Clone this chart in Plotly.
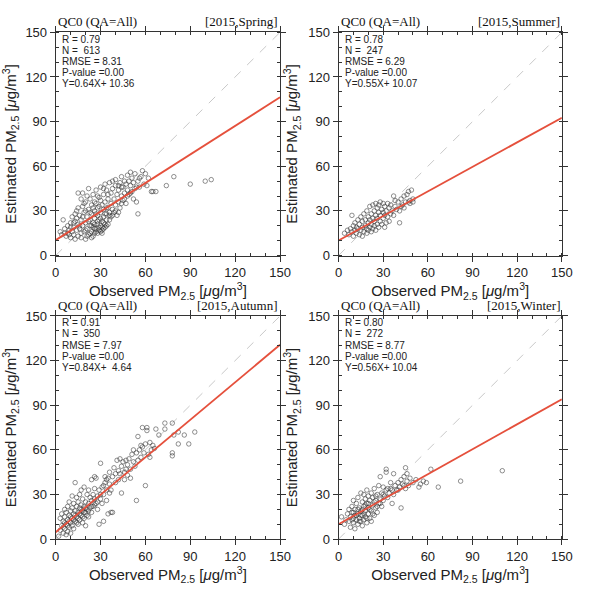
import plotly.graph_objects as go
from plotly.subplots import make_subplots

# ---------------- data ----------------
seasons = ["Spring", "Summer", "Autumn", "Winter"]
stat_R = ["0.79", "0.78", "0.91", "0.80"]
stat_N = ["613", "247", "350", "272"]
stat_RMSE = ["8.31", "6.29", "7.97", "8.77"]
stat_P = ["0.00", "0.00", "0.00", "0.00"]
slope = [0.64, 0.55, 0.84, 0.56]
intercept = [10.36, 10.07, 4.64, 10.04]
tick_vals = [0, 30, 60, 90, 120, 150]

spring_pts = [(3,16),(4,14),(5,24),(6,18),(7,13),(8,15),(8,20),(9,17),(10,12),(10,22),(11,16),(11,26),(12,14),(12,19),(13,11),(13,23),(14,17),(14,30),(15,13),(15,21),(15,42),(16,18),(16,27),(17,12),(17,15),(17,24),(18,42),(18,20),(18,33),(19,16),(19,29),(20,11),(20,22),(20,36),(21,18),(21,26),(22,14),(22,31),(22,45),(23,20),(23,24),(23,38),(24,16),(24,28),(24,34),(25,19),(25,22),(25,41),(26,15),(26,30),(26,25),(27,18),(27,35),(27,44),(28,21),(28,27),(28,32),(29,17),(29,24),(29,39),(30,20),(30,29),(30,46),(31,23),(31,34),(31,15),(32,26),(32,41),(32,31),(33,19),(33,36),(33,48),(34,28),(34,24),(34,44),(35,32),(35,38),(35,21),(36,29),(36,49),(37,35),(37,42),(37,26),(38,31),(38,45),(39,38),(39,29),(40,34),(40,47),(40,51),(41,41),(41,27),(42,36),(42,44),(43,49),(43,32),(44,40),(44,53),(45,46),(45,37),(46,42),(46,50),(47,48),(47,35),(48,44),(48,54),(49,41),(49,50),(50,47),(50,56),(51,43),(51,52),(52,49),(52,38),(53,45),(53,55),(54,36),(55,28),(55,50),(56,46),(57,53),(58,57),(59,48),(60,55),(61,47),(62,52),(64,43),(65,43),(67,43),(74,47),(79,53),(90,48),(100,50),(104,51),
    (12,22),(14,25),(16,20),(18,26),(20,17),(20,30),(22,23),(24,20),(25,32),(26,21),(27,28),(28,15),(29,33),(30,25),(31,19),(32,22),(33,28),(34,32),(36,24),(38,27),(40,30),(42,29),(44,35),(46,38),(10,19),(9,14),(6,15),(13,28),(15,32),(19,35),(21,40),(17,38),(23,29),(26,36),(28,40),(30,37),(32,45),(35,41),(38,50),(42,47),(44,46),(48,40),(50,42),(54,46),(56,52),
    (21,13),(23,15),(25,13),(27,16),(29,19),(31,17),(33,21),(26,18),(24,12),(28,23),(30,16),(32,18),(34,20),(36,27)]

summer_pts = [(4,15),(6,17),(7,14),(8,18),(9,27),(9,16),(10,13),(10,20),(11,17),(11,22),(12,15),(12,19),(13,18),(13,24),(14,14),(14,21),(15,17),(15,26),(16,13),(16,19),(16,23),(17,16),(17,28),(18,20),(18,24),(19,15),(19,18),(19,30),(20,22),(20,26),(20,17),(21,19),(21,24),(21,33),(22,16),(22,21),(22,28),(23,18),(23,25),(23,34),(24,20),(24,23),(24,30),(25,17),(25,27),(25,35),(26,21),(26,25),(26,32),(27,19),(27,29),(27,34),(28,23),(28,27),(28,36),(29,21),(29,31),(30,25),(30,29),(30,35),(31,19),(31,27),(31,33),(32,22),(32,30),(33,26),(33,35),(34,23),(34,32),(35,28),(35,34),(36,30),(37,27),(37,40),(38,33),(39,31),(40,36),(41,22),(41,30),(42,38),(43,34),(44,40),(45,36),(46,41),(47,36),(47,43),(48,35),(48,37),(49,44),(50,36),(50,38),(44,32),(42,33),(38,37)]

autumn_pts = [(2,2),(3,6),(3,14),(4,9),(4,17),(5,4),(5,12),(6,7),(6,15),(6,20),(7,3),(7,10),(7,18),(8,5),(8,13),(8,22),(9,8),(9,16),(9,25),(10,4),(10,11),(10,19),(11,14),(11,21),(11,29),(12,7),(12,17),(12,24),(13,12),(13,19),(13,38),(14,15),(14,22),(14,28),(15,10),(15,18),(15,25),(16,13),(16,21),(16,30),(17,16),(17,23),(17,33),(18,11),(18,19),(18,27),(19,14),(19,22),(19,35),(20,18),(20,25),(20,9),(21,20),(21,30),(22,15),(22,24),(22,33),(23,21),(23,28),(24,26),(24,18),(25,30),(25,22),(26,27),(26,34),(27,24),(27,41),(28,29),(28,20),(29,33),(29,10),(30,27),(30,51),(31,35),(31,24),(32,12),(32,30),(33,38),(33,42),(34,33),(34,26),(35,41),(35,17),(36,37),(36,45),(37,33),(37,18),(38,42),(38,18),(39,48),(40,38),(40,44),(41,53),(42,46),(42,40),(43,54),(44,49),(44,31),(45,52),(46,45),(46,40),(47,53),(48,50),(48,43),(49,54),(50,47),(50,41),(51,57),(52,52),(53,49),(54,26),(54,58),(55,53),(55,69),(56,60),(57,55),(58,75),(58,62),(59,58),(60,36),(60,64),(61,73),(61,75),(62,57),(63,65),(64,60),(65,63),(67,74),(69,70),(73,78),(73,74),(78,58),(78,56),(78,78),(79,70),(82,72),(82,64),(86,70),(89,64),(93,72),
    (5,8),(6,11),(8,9),(9,12),(10,15),(11,9),(12,13),(13,16),(14,11),(15,14),(16,17),(17,20),(18,15),(19,18),(20,21),(21,16),(22,19),(24,22),(26,23),(28,25),(30,30),(32,36),(34,40),(36,31),(26,42),(24,40),(43,44),(47,47),(52,60),(57,63),(63,55),(66,61)]

winter_pts = [(2,15),(4,10),(5,13),(6,17),(7,12),(7,20),(8,8),(8,15),(9,18),(9,22),(10,11),(10,14),(10,26),(11,7),(11,16),(11,20),(12,13),(12,24),(13,10),(13,17),(13,28),(14,14),(14,21),(15,12),(15,19),(15,31),(16,9),(16,16),(16,25),(17,13),(17,22),(17,30),(18,15),(18,19),(18,27),(19,11),(19,24),(19,33),(20,17),(20,21),(20,29),(21,14),(21,26),(22,12),(22,19),(22,31),(23,23),(23,28),(24,16),(24,34),(25,21),(25,26),(26,18),(26,30),(27,24),(27,36),(28,27),(28,42),(29,22),(29,31),(30,26),(30,35),(31,29),(32,45),(32,47),(32,33),(33,28),(34,31),(35,38),(35,34),(36,24),(37,30),(37,44),(38,36),(39,33),(40,38),(41,35),(42,21),(42,40),(43,37),(44,42),(45,34),(45,48),(46,39),(47,36),(48,41),(50,38),(52,40),(54,35),(55,37),(57,39),(59,38),(62,47),(67,35),(82,39),(110,46),
    (9,13),(10,18),(12,16),(13,20),(14,12),(15,16),(16,20),(17,17),(18,23),(19,14),(20,24),(21,20),(23,17),(24,25),(25,29),(26,22),(28,24),(30,30),(33,34),(36,33),(40,33),(44,36),(46,44)]

all_pts = [spring_pts, summer_pts, autumn_pts, winter_pts]

# ---------------- figure ----------------
W, H = 607, 592
fig = make_subplots(rows=2, cols=2)

# pixel boxes (left, right, top, bottom)
boxes = [(53, 283, 26, 255), (343, 572, 26, 255),
         (53, 283, 317, 546), (343, 572, 317, 546)]

for i in range(4):
    r, c = i // 2 + 1, i % 2 + 1
    xs = [p[0] for p in all_pts[i]]
    ys = [p[1] for p in all_pts[i]]
    fig.add_trace(go.Scatter(x=[0, 150], y=[0, 150], mode="lines",
                             line=dict(color="#c8c8c8", width=1, dash="dash"),
                             showlegend=False, hoverinfo="skip"), row=r, col=c)
    fig.add_trace(go.Scatter(x=xs, y=ys, mode="markers",
                             marker=dict(symbol="circle-open", size=4.5,
                                         color="rgba(45,45,45,0.75)",
                                         line=dict(width=0.7)),
                             showlegend=False), row=r, col=c)
    fig.add_trace(go.Scatter(x=[0, 150], y=[intercept[i], slope[i] * 150 + intercept[i]],
                             mode="lines", line=dict(color="#e5503c", width=1.8),
                             showlegend=False, hoverinfo="skip"), row=r, col=c)

axis_common = dict(range=[0, 150], tickvals=tick_vals, showgrid=False, zeroline=False,
                   showline=True, linecolor="#333", linewidth=1, mirror="ticks",
                   ticks="outside", ticklen=5, tickcolor="#333", tickwidth=1,
                   tickfont=dict(family="Liberation Sans, Arial", size=13, color="#222"),
                   minor=dict(dtick=10, ticks="inside", ticklen=3, tickcolor="#333", tickwidth=1))

ytitle = "Estimated PM<sub>2.5</sub> [<i>μ</i>g/m<sup>3</sup>]"
xtitle = "Observed PM<sub>2.5</sub> [<i>μ</i>g/m<sup>3</sup>]"

for i, (l, rr, t, b) in enumerate(boxes):
    n = "" if i == 0 else str(i + 1)
    fig.layout["xaxis" + n].update(axis_common)
    fig.layout["yaxis" + n].update(axis_common)
    fig.layout["xaxis" + n].update(domain=[l / W, rr / W],
                                   title=dict(text=xtitle, standoff=4,
                                              font=dict(family="Liberation Sans, Arial", size=15, color="#222")))
    fig.layout["yaxis" + n].update(domain=[(H - b) / H, (H - t) / H],
                                   title=dict(text=ytitle, standoff=6,
                                              font=dict(family="Liberation Sans, Arial", size=15, color="#222")))
    xr = "x" + n + " domain"
    yr = "y" + n + " domain"
    fig.add_annotation(text="QC0 (QA=All)", xref=xr, yref=yr, x=0, y=1.005,
                       xanchor="left", yanchor="bottom", showarrow=False,
                       font=dict(family="Liberation Serif, Times New Roman", size=13, color="#111"))
    fig.add_annotation(text="[2015," + seasons[i] + "]", xref=xr, yref=yr, x=1, y=1.005,
                       xanchor="right", yanchor="bottom", showarrow=False,
                       font=dict(family="Liberation Serif, Times New Roman", size=13, color="#111"))
    lines = ["R = " + stat_R[i], "N =  " + stat_N[i], "RMSE = " + stat_RMSE[i],
             "P-value =" + stat_P[i],
             "Y=%.2fX+ %5.2f" % (slope[i], intercept[i])]
    for k, s in enumerate(lines):
        fig.add_annotation(text=s, xref=xr, yref=yr, x=0.02, y=1 - (7 + 11.4 * k) / 229,
                           xanchor="left", yanchor="middle", showarrow=False,
                           font=dict(family="Liberation Sans, Arial", size=10, color="#222"))

fig.update_layout(width=W, height=H, margin=dict(l=0, r=0, t=0, b=0),
                  plot_bgcolor="white", paper_bgcolor="white")

fig.write_html("out.html")
